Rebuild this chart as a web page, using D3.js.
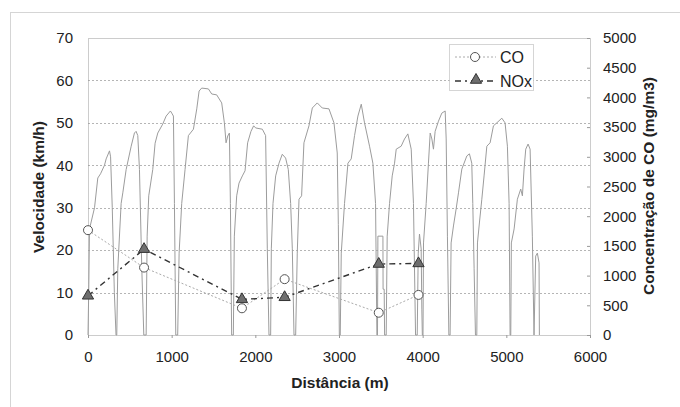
<!DOCTYPE html>
<html lang="pt">
<head>
  <meta charset="UTF-8">
  <title>Velocidade e concentração</title>
  <style>
    body { margin: 0; background: #fff; font-family: 'Liberation Sans', Arial, sans-serif; }
    svg text { fill: #222; }
  </style>
</head>
<body>
  <div id="chart"></div>
  <script src="https://d3js.org/d3.v7.min.js"></script>
  <script>
    // speed trace: distance (m) and speed (km/h)
    const speedDist = [
      0, 10, 18, 78, 117, 150, 197, 217, 257, 270, 290, 315, 335,
      344, 356, 396, 416, 456, 516, 555, 575, 595, 615, 643, 667,
      695, 707, 726, 774, 802, 834, 893, 934, 985, 1001, 1021, 1033, 1049,
      1072, 1089, 1120, 1160, 1200, 1260, 1300, 1328, 1359, 1439, 1479, 1538, 1598, 1630, 1650, 1670, 1690, 1702, 1717,
      1737, 1749, 1777, 1805, 1845, 1877, 1908, 1948, 1980, 2004, 2084, 2123, 2143, 2163,
      2183, 2191, 2211, 2243, 2283, 2322, 2362, 2394, 2422, 2442, 2462,
      2482, 2501, 2522, 2553, 2581, 2641, 2681, 2740, 2800, 2880, 2940, 2979, 2992, 3004,
      3015, 3027, 3066, 3107, 3146, 3186, 3226, 3266, 3305, 3365, 3405, 3437, 3453,
      3460, 3465, 3525, 3527, 3540, 3545,
      3564, 3576, 3604, 3636, 3664, 3684, 3743, 3783, 3823, 3863, 3890, 3915,
      3935, 3947, 3962, 3982, 3990, 3996,
      4004, 4010, 4042, 4069, 4090, 4110, 4129, 4149, 4189, 4229, 4269, 4281, 4296, 4313,
      4328, 4340, 4368, 4400, 4428, 4468, 4528, 4559, 4587, 4599, 4615, 4631,
      4647, 4655, 4678, 4707, 4734, 4767, 4806, 4846, 4886, 4946, 4985, 5013, 5033, 5045,
      5053, 5060, 5093, 5132, 5172, 5192, 5212, 5232, 5260, 5284, 5311, 5331,
      5351, 5371, 5391, 5395
    ];
    const speedKmh = [
      0, 12, 25, 30, 37, 38, 40, 41.5, 43.4, 42, 30, 10, 0,
      0, 15.6, 31, 33.5, 39, 44.5, 47.6, 48, 47, 39, 15.6, 0,
      0, 23.3, 32.8, 39, 45.2, 47.6, 49.7, 51.6, 52.8, 52.3, 51.6, 31, 0,
      0, 19.3, 31, 39, 47, 48.5, 53.3, 57.5, 58.2, 58, 56.8, 56.6, 54.7, 50, 45.3, 46.9, 47.6, 31, 0,
      0, 23.3, 32.8, 35.8, 37.5, 38.7, 45.3, 48, 49.3, 48.8, 48.5, 47, 20.3, 0,
      0, 20.3, 31, 37.5, 40.5, 42.6, 41.7, 39, 31, 20.3, 0,
      0, 19.3, 32, 32.8, 45.3, 49.3, 53.5, 54.7, 53.5, 53.3, 50, 42.9, 26, 0,
      0, 19.3, 31, 40.5, 41.5, 47, 51.6, 54.4, 50, 44.5, 40.5, 31, 0,
      0, 23.3, 23.3, 10.8, 10.8, 0,
      0, 23.3, 31, 37.5, 40.5, 43.8, 44.5, 46.2, 47.4, 43.8, 31, 0,
      0, 19.3, 23.8, 20.3, 6.1, 0,
      0, 21.7, 31, 40.5, 47.6, 46.2, 43.8, 48, 50.4, 52.3, 52.8, 46.2, 23.3, 0,
      0, 21.7, 25.7, 29.7, 33.5, 39.1, 42.2, 42.7, 40.5, 31, 15.6, 0,
      0, 21.7, 26.4, 32, 37.5, 44.5, 45.3, 49.3, 50, 51.1, 50, 44.5, 31, 0,
      0, 21.7, 25, 32, 34.4, 32.8, 39.1, 43.8, 45, 43.8, 23.3, 0,
      18.6, 19.3, 17, 0
    ];

    // sampling points (m) and concentrations (mg/m3)
    const sampleDist = [0, 670, 1840, 2350, 3475, 3950];
    const coVal = [1765, 1135, 450, 940, 375, 675];
    const noxVal = [660, 1445, 600, 635, 1195, 1205];

    const xTicks = [0, 1000, 2000, 3000, 4000, 5000, 6000];
    const yTicks = [0, 10, 20, 30, 40, 50, 60, 70];
    const y2Ticks = [0, 500, 1000, 1500, 2000, 2500, 3000, 3500, 4000, 4500, 5000];

    const width = 680, height = 407;
    const svg = d3.select("#chart").append("svg")
      .attr("width", width)
      .attr("height", height);

    const x = d3.scaleLinear().domain([0, 6000]).range([88, 590]);
    const y = d3.scaleLinear().domain([0, 70]).range([335, 38]);
    const y2 = d3.scaleLinear().domain([0, 5000]).range([335, 38]);
    const fmt = d3.format("d");

    // outer chart frame (runs past the window edges)
    svg.append("rect")
      .attr("x", 10.5).attr("y", 12.5)
      .attr("width", 700).attr("height", 420)
      .attr("fill", "none")
      .attr("stroke", "#aaa")
      .attr("stroke-dasharray", "1,1");

    // gridlines
    svg.append("g")
      .selectAll("line")
      .data(yTicks.slice(1, -1))
      .join("line")
      .attr("x1", 88).attr("x2", 590)
      .attr("y1", d => Math.round(y(d)) + 0.5)
      .attr("y2", d => Math.round(y(d)) + 0.5)
      .attr("stroke", "#b5b5b5")
      .attr("stroke-dasharray", "2,2");

    // plot frame
    svg.append("rect")
      .attr("x", 88.5).attr("y", 38.5)
      .attr("width", 502).attr("height", 297)
      .attr("fill", "none")
      .attr("stroke", "#999")
      .attr("stroke-dasharray", "1,1");

    // axes
    const xAxis = svg.append("g")
      .attr("transform", "translate(0,335)")
      .call(d3.axisBottom(x).tickValues(xTicks).tickFormat(fmt).tickSize(3).tickPadding(13));
    const yAxis = svg.append("g")
      .attr("transform", "translate(88,0)")
      .call(d3.axisLeft(y).tickValues(yTicks).tickFormat(fmt).tickSize(0).tickPadding(15));
    const y2Axis = svg.append("g")
      .attr("transform", "translate(590,0)")
      .call(d3.axisRight(y2).tickValues(y2Ticks).tickFormat(fmt).tickSize(-3).tickPadding(13));

    [xAxis, yAxis, y2Axis].forEach(g => {
      g.select(".domain").remove();
      g.selectAll("line").attr("stroke", "#999");
      g.selectAll("text")
        .style("font-family", "'Liberation Sans', Arial, sans-serif")
        .style("font-size", "15px")
        .attr("fill", "#222");
    });

    // speed trace
    const speed = speedDist.map((d, i) => [d, speedKmh[i]]);
    svg.append("path")
      .datum(speed)
      .attr("fill", "none")
      .attr("stroke", "#9c9c9c")
      .attr("stroke-width", 1)
      .attr("d", d3.line().x(d => x(d[0])).y(d => y(d[1])));

    // CO
    const co = sampleDist.map((d, i) => [d, coVal[i]]);
    svg.append("path")
      .datum(co)
      .attr("fill", "none")
      .attr("stroke", "#aaa")
      .attr("stroke-dasharray", "2,2")
      .attr("d", d3.line().x(d => x(d[0])).y(d => y2(d[1])));

    // NOx
    const nox = sampleDist.map((d, i) => [d, noxVal[i]]);
    svg.append("path")
      .datum(nox)
      .attr("fill", "none")
      .attr("stroke", "#333")
      .attr("stroke-width", 1.4)
      .attr("stroke-dasharray", "6,4,2,4")
      .attr("d", d3.line().x(d => x(d[0])).y(d => y2(d[1])));

    svg.append("g")
      .selectAll("circle")
      .data(co)
      .join("circle")
      .attr("cx", d => x(d[0]))
      .attr("cy", d => y2(d[1]))
      .attr("r", 4.5)
      .attr("fill", "#fff")
      .attr("stroke", "#555");

    const tri = d3.symbol().type(d3.symbolTriangle).size(55);
    svg.append("g")
      .selectAll("path")
      .data(nox)
      .join("path")
      .attr("transform", d => `translate(${x(d[0])},${y2(d[1])})`)
      .attr("d", tri)
      .attr("fill", "#6e6e6e")
      .attr("stroke", "#333");

    // legend
    const lg = svg.append("g");
    lg.append("rect")
      .attr("x", 449.5).attr("y", 44.5)
      .attr("width", 84).attr("height", 46)
      .attr("fill", "#fff")
      .attr("stroke", "#aaa")
      .attr("stroke-dasharray", "1,1");
    lg.append("line")
      .attr("x1", 455).attr("x2", 496).attr("y1", 57).attr("y2", 57)
      .attr("stroke", "#aaa").attr("stroke-dasharray", "2,2");
    lg.append("circle")
      .attr("cx", 475).attr("cy", 57).attr("r", 4.5)
      .attr("fill", "#fff").attr("stroke", "#555");
    lg.append("text").attr("x", 500).attr("y", 62.5)
      .style("font-size", "16px").text("CO");
    lg.append("line")
      .attr("x1", 455).attr("x2", 496).attr("y1", 81).attr("y2", 81)
      .attr("stroke", "#333").attr("stroke-width", 1.4)
      .attr("stroke-dasharray", "6,4,2,4");
    lg.append("path")
      .attr("transform", "translate(476,80)")
      .attr("d", tri)
      .attr("fill", "#6e6e6e").attr("stroke", "#333");
    lg.append("text").attr("x", 500).attr("y", 86.5)
      .style("font-size", "16px").text("NOx");

    // axis titles
    svg.append("text")
      .attr("transform", "translate(44,187) rotate(-90)")
      .attr("text-anchor", "middle")
      .style("font-size", "15.5px").style("font-weight", "bold")
      .text("Velocidade (km/h)");
    svg.append("text")
      .attr("transform", "translate(654,186) rotate(-90)")
      .attr("text-anchor", "middle")
      .style("font-size", "15.5px").style("font-weight", "bold")
      .text("Concentração de CO (mg/m3)");
    svg.append("text")
      .attr("x", 340).attr("y", 388)
      .attr("text-anchor", "middle")
      .style("font-size", "15.5px").style("font-weight", "bold")
      .text("Distância (m)");
  </script>
</body>
</html>
